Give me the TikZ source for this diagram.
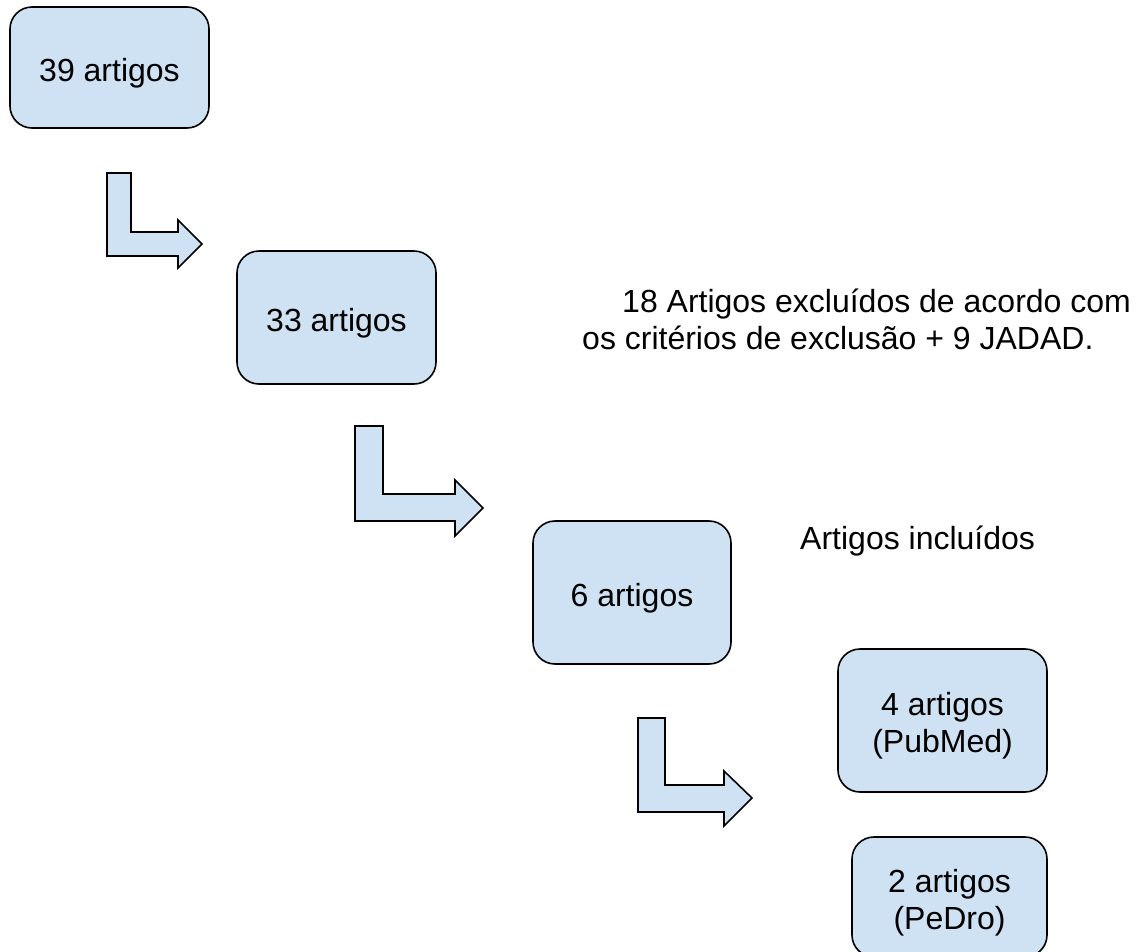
\documentclass[tikz,border=0pt]{standalone}
\usepackage{fontspec}
\setmainfont{Liberation Sans}
\definecolor{boxblue}{HTML}{CFE2F3}
\begin{document}
\begin{tikzpicture}[x=1pt,y=-1pt,
  box/.style={draw=black, line width=1.6pt, fill=boxblue, rounded corners=22pt,
    align=center, font=\fontsize{32}{37}\selectfont, inner sep=0pt, text height=35pt},
  twoline/.style={text height=70pt, text depth=6pt},
  bentarrow/.style={draw=black, line width=1.6pt, fill=boxblue, line join=miter},
  plainlabel/.style={font=\fontsize{32}{37}\selectfont, inner sep=0pt, align=left}]
\clip (0,0) rectangle (1147,951);
\fill[white] (0,0) rectangle (1147,951);

% boxes
\node[box, minimum width=199pt, minimum height=121pt] (b1) at (109.5,67.5) {39 artigos};
\node[box, minimum width=199pt, minimum height=133pt] (b2) at (336.5,317.5) {33 artigos};
\node[box, minimum width=198pt, minimum height=143pt] (b3) at (632,592.5) {6 artigos};
\node[box, twoline, minimum width=209pt, minimum height=143pt] (b4) at (942.5,720.5) {4 artigos\\(PubMed)};
\node[box, twoline, minimum width=195pt, minimum height=120pt] (b5) at (949.5,897) {2 artigos\\(PeDro)};

% texts
\node[plainlabel, anchor=base west] (t1) at (622,312) {18 Artigos excluídos de acordo com};
\node[plainlabel, anchor=base west] (t2) at (582,349) {os critérios de exclusão + 9 JADAD.};
\node[plainlabel, anchor=base west] (t3) at (800,549) {Artigos incluídos};

% bent arrows
\draw[bentarrow] (107,173) -- (131,173) -- (131,232) -- (178,232) -- (178,220)
  -- (202,244) -- (178,268) -- (178,256) -- (107,256) -- cycle;
\draw[bentarrow] (355,426) -- (383,426) -- (383,494) -- (455,494) -- (455,480)
  -- (483,508) -- (455,536) -- (455,521) -- (355,521) -- cycle;
\draw[bentarrow] (638,718) -- (665,718) -- (665,785) -- (724,785) -- (724,771)
  -- (752,798) -- (724,826) -- (724,812) -- (638,812) -- cycle;
\end{tikzpicture}
\end{document}
